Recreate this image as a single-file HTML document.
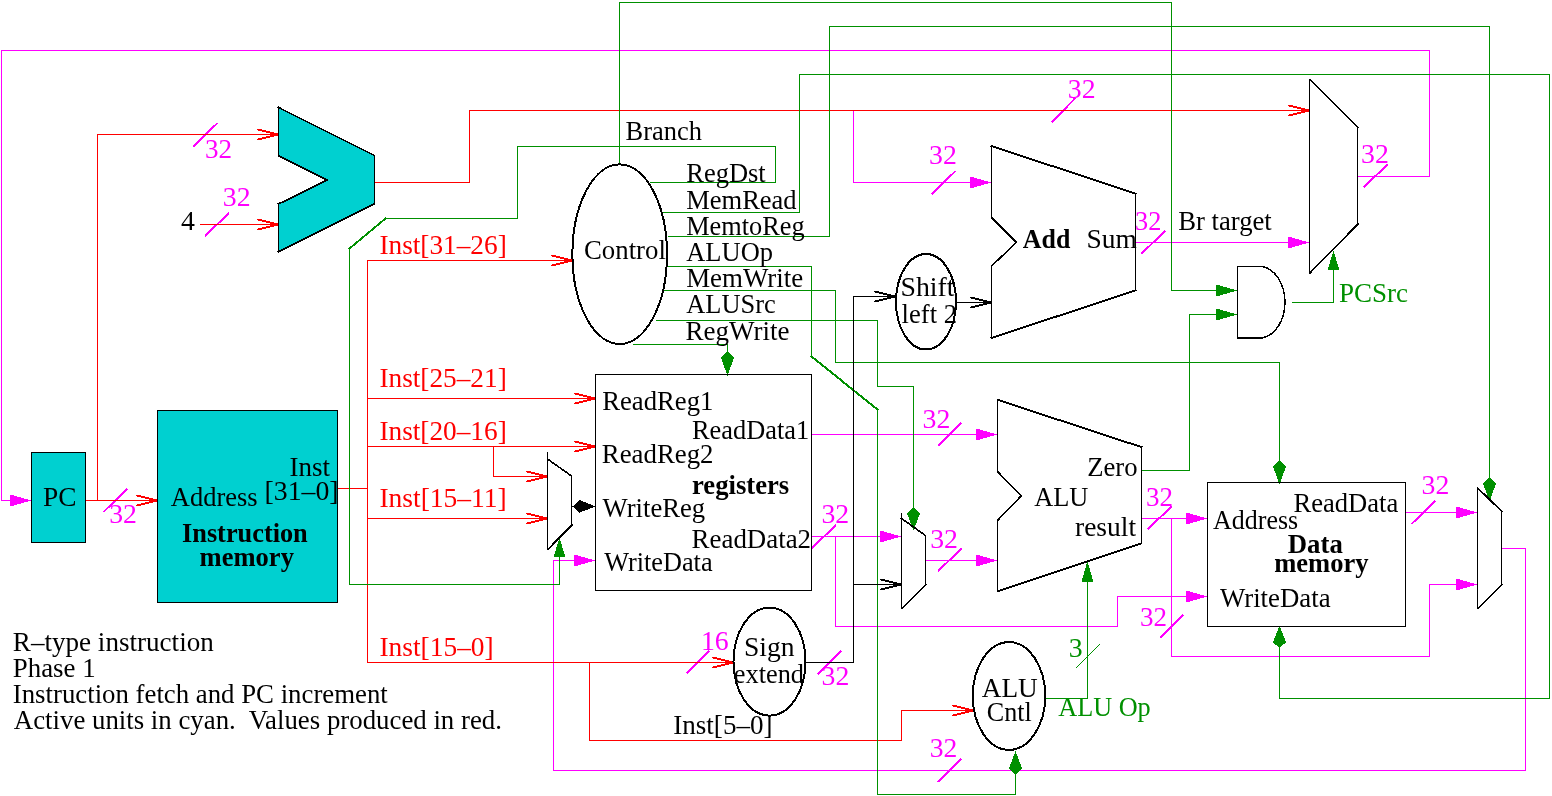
<!DOCTYPE html><html><head><meta charset="utf-8"><style>html,body{margin:0;padding:0;background:#fff;overflow:hidden}svg{display:block}</style></head><body><svg width="1552" height="796" viewBox="0 0 1552 796" style="will-change:transform"><rect width="1552" height="796" fill="#fff"/><polyline points="1357.5,176.5 1429.5,176.5 1429.5,50.5 1.5,50.5 1.5,500.5 31.5,500.5" fill="none" stroke="#ff00ff" stroke-width="1" stroke-linecap="square" shape-rendering="crispEdges"/><polygon points="31,500.5 10,494.5 10,506.5" fill="#ff00ff" stroke="none" shape-rendering="crispEdges"/><line x1="193.3" y1="146.5" x2="217.7" y2="122.8" stroke="#ff00ff" stroke-width="2" shape-rendering="crispEdges"/><line x1="205" y1="236" x2="229" y2="213" stroke="#ff00ff" stroke-width="2" shape-rendering="crispEdges"/><line x1="103.5" y1="512" x2="127.4" y2="488.7" stroke="#ff00ff" stroke-width="2" shape-rendering="crispEdges"/><polyline points="853.5,110.5 853.5,182.5 991.5,182.5" fill="none" stroke="#ff00ff" stroke-width="1" stroke-linecap="square" shape-rendering="crispEdges"/><polygon points="991,182.5 970,176.5 970,188.5" fill="#ff00ff" stroke="none" shape-rendering="crispEdges"/><line x1="931.7" y1="194" x2="955.6" y2="171" stroke="#ff00ff" stroke-width="2" shape-rendering="crispEdges"/><line x1="1051.5" y1="122.5" x2="1075.4" y2="98" stroke="#ff00ff" stroke-width="2" shape-rendering="crispEdges"/><polyline points="1135.5,242.5 1309.5,242.5" fill="none" stroke="#ff00ff" stroke-width="1" stroke-linecap="square" shape-rendering="crispEdges"/><polygon points="1309,242.5 1288,236.5 1288,248.5" fill="#ff00ff" stroke="none" shape-rendering="crispEdges"/><line x1="1141.5" y1="253.7" x2="1165.4" y2="230.6" stroke="#ff00ff" stroke-width="2" shape-rendering="crispEdges"/><line x1="1363.7" y1="187" x2="1387.6" y2="164.6" stroke="#ff00ff" stroke-width="2" shape-rendering="crispEdges"/><polyline points="811.5,434.5 997.5,434.5" fill="none" stroke="#ff00ff" stroke-width="1" stroke-linecap="square" shape-rendering="crispEdges"/><polygon points="997,434.5 976,428.5 976,440.5" fill="#ff00ff" stroke="none" shape-rendering="crispEdges"/><line x1="938" y1="445.7" x2="961.4" y2="422.6" stroke="#ff00ff" stroke-width="2" shape-rendering="crispEdges"/><polyline points="811.5,536.5 901.5,536.5" fill="none" stroke="#ff00ff" stroke-width="1" stroke-linecap="square" shape-rendering="crispEdges"/><polygon points="901,536.5 880,530.5 880,542.5" fill="#ff00ff" stroke="none" shape-rendering="crispEdges"/><polyline points="835.5,536.5 835.5,626.5 1117.5,626.5 1117.5,596.5 1207.5,596.5" fill="none" stroke="#ff00ff" stroke-width="1" stroke-linecap="square" shape-rendering="crispEdges"/><polygon points="1207,596.5 1186,590.5 1186,602.5" fill="#ff00ff" stroke="none" shape-rendering="crispEdges"/><line x1="812" y1="548" x2="836" y2="525" stroke="#ff00ff" stroke-width="2" shape-rendering="crispEdges"/><polyline points="926.5,560.5 997.5,560.5" fill="none" stroke="#ff00ff" stroke-width="1" stroke-linecap="square" shape-rendering="crispEdges"/><polygon points="997,560.5 976,554.5 976,566.5" fill="#ff00ff" stroke="none" shape-rendering="crispEdges"/><line x1="938" y1="571" x2="961.8" y2="548.5" stroke="#ff00ff" stroke-width="2" shape-rendering="crispEdges"/><polyline points="1141.5,518.5 1207.5,518.5" fill="none" stroke="#ff00ff" stroke-width="1" stroke-linecap="square" shape-rendering="crispEdges"/><polygon points="1207,518.5 1186,512.5 1186,524.5" fill="#ff00ff" stroke="none" shape-rendering="crispEdges"/><polyline points="1171.5,518.5 1171.5,656.5 1429.5,656.5 1429.5,584.5 1477.5,584.5" fill="none" stroke="#ff00ff" stroke-width="1" stroke-linecap="square" shape-rendering="crispEdges"/><polygon points="1477,584.5 1456,578.5 1456,590.5" fill="#ff00ff" stroke="none" shape-rendering="crispEdges"/><line x1="1147.7" y1="529" x2="1171.6" y2="506.6" stroke="#ff00ff" stroke-width="2" shape-rendering="crispEdges"/><line x1="1160" y1="638" x2="1183.5" y2="614.6" stroke="#ff00ff" stroke-width="2" shape-rendering="crispEdges"/><polyline points="1405.5,512.5 1477.5,512.5" fill="none" stroke="#ff00ff" stroke-width="1" stroke-linecap="square" shape-rendering="crispEdges"/><polygon points="1477,512.5 1456,506.5 1456,518.5" fill="#ff00ff" stroke="none" shape-rendering="crispEdges"/><line x1="1411.5" y1="524" x2="1435.4" y2="501" stroke="#ff00ff" stroke-width="2" shape-rendering="crispEdges"/><polyline points="1501.5,548.5 1525.5,548.5 1525.5,770.5 553.5,770.5 553.5,560.5 595.5,560.5" fill="none" stroke="#ff00ff" stroke-width="1" stroke-linecap="square" shape-rendering="crispEdges"/><polygon points="595,560.5 574,554.5 574,566.5" fill="#ff00ff" stroke="none" shape-rendering="crispEdges"/><line x1="686.4" y1="673.4" x2="709" y2="650.8" stroke="#ff00ff" stroke-width="2" shape-rendering="crispEdges"/><line x1="817.8" y1="673.9" x2="841.4" y2="650.8" stroke="#ff00ff" stroke-width="2" shape-rendering="crispEdges"/><line x1="937.6" y1="782" x2="961.5" y2="758.8" stroke="#ff00ff" stroke-width="2" shape-rendering="crispEdges"/><polyline points="85.5,500.5 157.5,500.5" fill="none" stroke="#ff0000" stroke-width="1" stroke-linecap="square" shape-rendering="crispEdges"/><line x1="136.5" y1="495.5" x2="157.5" y2="500.5" stroke="#ff0000" stroke-width="1.9" stroke-linecap="butt" shape-rendering="crispEdges"/><line x1="136.5" y1="505.5" x2="157.5" y2="500.5" stroke="#ff0000" stroke-width="1.9" stroke-linecap="butt" shape-rendering="crispEdges"/><polyline points="97.5,500.5 97.5,134.5 278.5,134.5" fill="none" stroke="#ff0000" stroke-width="1" stroke-linecap="square" shape-rendering="crispEdges"/><line x1="257.5" y1="129.5" x2="278.5" y2="134.5" stroke="#ff0000" stroke-width="1.9" stroke-linecap="butt" shape-rendering="crispEdges"/><line x1="257.5" y1="139.5" x2="278.5" y2="134.5" stroke="#ff0000" stroke-width="1.9" stroke-linecap="butt" shape-rendering="crispEdges"/><polyline points="200.5,224.5 278.5,224.5" fill="none" stroke="#ff0000" stroke-width="1" stroke-linecap="square" shape-rendering="crispEdges"/><line x1="257.5" y1="219.5" x2="278.5" y2="224.5" stroke="#ff0000" stroke-width="1.9" stroke-linecap="butt" shape-rendering="crispEdges"/><line x1="257.5" y1="229.5" x2="278.5" y2="224.5" stroke="#ff0000" stroke-width="1.9" stroke-linecap="butt" shape-rendering="crispEdges"/><polyline points="374.5,182.5 469.5,182.5 469.5,110.5 1309.5,110.5" fill="none" stroke="#ff0000" stroke-width="1" stroke-linecap="square" shape-rendering="crispEdges"/><line x1="1288.5" y1="105.5" x2="1309.5" y2="110.5" stroke="#ff0000" stroke-width="1.9" stroke-linecap="butt" shape-rendering="crispEdges"/><line x1="1288.5" y1="115.5" x2="1309.5" y2="110.5" stroke="#ff0000" stroke-width="1.9" stroke-linecap="butt" shape-rendering="crispEdges"/><polyline points="337.5,488.5 367.5,488.5" fill="none" stroke="#ff0000" stroke-width="1" stroke-linecap="square" shape-rendering="crispEdges"/><polyline points="367.5,260.5 367.5,662.5 733.5,662.5" fill="none" stroke="#ff0000" stroke-width="1" stroke-linecap="square" shape-rendering="crispEdges"/><line x1="712.5" y1="657.5" x2="733.5" y2="662.5" stroke="#ff0000" stroke-width="1.9" stroke-linecap="butt" shape-rendering="crispEdges"/><line x1="712.5" y1="667.5" x2="733.5" y2="662.5" stroke="#ff0000" stroke-width="1.9" stroke-linecap="butt" shape-rendering="crispEdges"/><polyline points="367.5,260.5 572.5,260.5" fill="none" stroke="#ff0000" stroke-width="1" stroke-linecap="square" shape-rendering="crispEdges"/><line x1="551.5" y1="255.5" x2="572.5" y2="260.5" stroke="#ff0000" stroke-width="1.9" stroke-linecap="butt" shape-rendering="crispEdges"/><line x1="551.5" y1="265.5" x2="572.5" y2="260.5" stroke="#ff0000" stroke-width="1.9" stroke-linecap="butt" shape-rendering="crispEdges"/><polyline points="367.5,398.5 595.5,398.5" fill="none" stroke="#ff0000" stroke-width="1" stroke-linecap="square" shape-rendering="crispEdges"/><line x1="574.5" y1="393.5" x2="595.5" y2="398.5" stroke="#ff0000" stroke-width="1.9" stroke-linecap="butt" shape-rendering="crispEdges"/><line x1="574.5" y1="403.5" x2="595.5" y2="398.5" stroke="#ff0000" stroke-width="1.9" stroke-linecap="butt" shape-rendering="crispEdges"/><polyline points="367.5,446.5 595.5,446.5" fill="none" stroke="#ff0000" stroke-width="1" stroke-linecap="square" shape-rendering="crispEdges"/><line x1="574.5" y1="441.5" x2="595.5" y2="446.5" stroke="#ff0000" stroke-width="1.9" stroke-linecap="butt" shape-rendering="crispEdges"/><line x1="574.5" y1="451.5" x2="595.5" y2="446.5" stroke="#ff0000" stroke-width="1.9" stroke-linecap="butt" shape-rendering="crispEdges"/><polyline points="493.5,446.5 493.5,476.5 547.5,476.5" fill="none" stroke="#ff0000" stroke-width="1" stroke-linecap="square" shape-rendering="crispEdges"/><line x1="526.5" y1="471.5" x2="547.5" y2="476.5" stroke="#ff0000" stroke-width="1.9" stroke-linecap="butt" shape-rendering="crispEdges"/><line x1="526.5" y1="481.5" x2="547.5" y2="476.5" stroke="#ff0000" stroke-width="1.9" stroke-linecap="butt" shape-rendering="crispEdges"/><polyline points="367.5,518.5 547.5,518.5" fill="none" stroke="#ff0000" stroke-width="1" stroke-linecap="square" shape-rendering="crispEdges"/><line x1="526.5" y1="513.5" x2="547.5" y2="518.5" stroke="#ff0000" stroke-width="1.9" stroke-linecap="butt" shape-rendering="crispEdges"/><line x1="526.5" y1="523.5" x2="547.5" y2="518.5" stroke="#ff0000" stroke-width="1.9" stroke-linecap="butt" shape-rendering="crispEdges"/><polyline points="589.5,662.5 589.5,740.5 901.5,740.5 901.5,710.5 973.5,710.5" fill="none" stroke="#ff0000" stroke-width="1" stroke-linecap="square" shape-rendering="crispEdges"/><line x1="952.5" y1="705.5" x2="973.5" y2="710.5" stroke="#ff0000" stroke-width="1.9" stroke-linecap="butt" shape-rendering="crispEdges"/><line x1="952.5" y1="715.5" x2="973.5" y2="710.5" stroke="#ff0000" stroke-width="1.9" stroke-linecap="butt" shape-rendering="crispEdges"/><polyline points="619.5,164.5 619.5,2.5 1171.5,2.5 1171.5,290.5 1237.5,290.5" fill="none" stroke="#009000" stroke-width="1" stroke-linecap="square" shape-rendering="crispEdges"/><polygon points="1237,290.5 1216,284.5 1216,296.5" fill="#009000" stroke="none" shape-rendering="crispEdges"/><polyline points="650.5,182.5 775.5,182.5 775.5,146.5 517.5,146.5 517.5,218.5 385.5,218.5" fill="none" stroke="#009000" stroke-width="1" stroke-linecap="square" shape-rendering="crispEdges"/><polyline points="385.5,218.5 349.5,248.5" fill="none" stroke="#009000" stroke-width="1" stroke-linecap="square" shape-rendering="crispEdges"/><line x1="385.5" y1="218.5" x2="349.5" y2="248.5" stroke="#009000" stroke-width="2.00" stroke-linecap="square" shape-rendering="crispEdges"/><polyline points="349.5,248.5 349.5,584.5 559.5,584.5 559.5,538.5" fill="none" stroke="#009000" stroke-width="1" stroke-linecap="square" shape-rendering="crispEdges"/><polygon points="559.5,538 553.5,557 565.5,557" fill="#009000" stroke="none" shape-rendering="crispEdges"/><polyline points="663.5,212.5 799.5,212.5 799.5,74.5 1549.5,74.5 1549.5,698.5 1279.5,698.5 1279.5,647.5" fill="none" stroke="#009000" stroke-width="1" stroke-linecap="square" shape-rendering="crispEdges"/><polygon points="1279.5,627 1285.5,642 1279.5,647.5 1273.5,642" fill="#009000" stroke="#009000" stroke-width="1" stroke-linecap="square" shape-rendering="crispEdges"/><polyline points="668.5,236.5 829.5,236.5 829.5,26.5 1489.5,26.5 1489.5,478.5" fill="none" stroke="#009000" stroke-width="1" stroke-linecap="square" shape-rendering="crispEdges"/><polygon points="1489.5,478 1495.5,483.5 1489.5,500 1483.5,483.5" fill="#009000" stroke="#009000" stroke-width="1" stroke-linecap="square" shape-rendering="crispEdges"/><polyline points="667.5,266.5 811.5,266.5 811.5,356.5" fill="none" stroke="#009000" stroke-width="1" stroke-linecap="square" shape-rendering="crispEdges"/><polyline points="811.5,356.5 877.5,409.5" fill="none" stroke="#009000" stroke-width="1" stroke-linecap="square" shape-rendering="crispEdges"/><line x1="811.5" y1="356.5" x2="877.5" y2="409.5" stroke="#009000" stroke-width="2.03" stroke-linecap="square" shape-rendering="crispEdges"/><polyline points="877.5,409.5 877.5,794.5 1015.5,794.5 1015.5,773.5" fill="none" stroke="#009000" stroke-width="1" stroke-linecap="square" shape-rendering="crispEdges"/><polygon points="1015.5,752.3 1021.5,768.3 1015.5,773.8 1009.5,768.3" fill="#009000" stroke="#009000" stroke-width="1" stroke-linecap="square" shape-rendering="crispEdges"/><polyline points="663.5,290.5 835.5,290.5 835.5,362.5 1279.5,362.5 1279.5,461.5" fill="none" stroke="#009000" stroke-width="1" stroke-linecap="square" shape-rendering="crispEdges"/><polygon points="1279.5,461 1285.5,466.5 1279.5,483 1273.5,466.5" fill="#009000" stroke="#009000" stroke-width="1" stroke-linecap="square" shape-rendering="crispEdges"/><polyline points="656.5,320.5 877.5,320.5 877.5,386.5 913.5,386.5 913.5,508.5" fill="none" stroke="#009000" stroke-width="1" stroke-linecap="square" shape-rendering="crispEdges"/><polygon points="913.5,508 919.5,513.5 913.5,529 907.5,513.5" fill="#009000" stroke="#009000" stroke-width="1" stroke-linecap="square" shape-rendering="crispEdges"/><polyline points="633.5,344.5 727.5,344.5 727.5,352.5" fill="none" stroke="#009000" stroke-width="1" stroke-linecap="square" shape-rendering="crispEdges"/><polygon points="727.5,352 733.5,357.5 727.5,374.5 721.5,357.5" fill="#009000" stroke="#009000" stroke-width="1" stroke-linecap="square" shape-rendering="crispEdges"/><polyline points="1141.5,470.5 1189.5,470.5 1189.5,314.5 1237.5,314.5" fill="none" stroke="#009000" stroke-width="1" stroke-linecap="square" shape-rendering="crispEdges"/><polygon points="1237,314.5 1216,308.5 1216,320.5" fill="#009000" stroke="none" shape-rendering="crispEdges"/><polyline points="1292.5,302.5 1333.5,302.5 1333.5,251.5" fill="none" stroke="#009000" stroke-width="1" stroke-linecap="square" shape-rendering="crispEdges"/><polygon points="1333.5,251 1327.5,270 1339.5,270" fill="#009000" stroke="none" shape-rendering="crispEdges"/><polyline points="1045.5,698.5 1087.5,698.5 1087.5,561.5" fill="none" stroke="#009000" stroke-width="1" stroke-linecap="square" shape-rendering="crispEdges"/><polygon points="1087.5,561 1081.5,582 1093.5,582" fill="#009000" stroke="none" shape-rendering="crispEdges"/><line x1="1076.4" y1="667.5" x2="1100" y2="644" stroke="#009000" stroke-width="1.2" shape-rendering="crispEdges"/><rect x="31.5" y="452.5" width="54" height="90" fill="#00d0d0" stroke="#000000" stroke-width="1" shape-rendering="crispEdges"/><rect x="157.5" y="410.5" width="180" height="192" fill="#00d0d0" stroke="#000000" stroke-width="1" shape-rendering="crispEdges"/><polygon points="278.5,107.5 374.5,155.5 374.5,204 278.5,252 278.5,204 327,180 278.5,156" fill="#00d0d0" stroke="#000000" stroke-width="1" stroke-linecap="square" shape-rendering="crispEdges"/><line x1="278.5" y1="107.5" x2="374.5" y2="155.5" stroke="#000000" stroke-width="1.79" stroke-linecap="square" shape-rendering="crispEdges"/><line x1="374.5" y1="204" x2="278.5" y2="252" stroke="#000000" stroke-width="1.79" stroke-linecap="square" shape-rendering="crispEdges"/><line x1="278.5" y1="204" x2="327" y2="180" stroke="#000000" stroke-width="1.79" stroke-linecap="square" shape-rendering="crispEdges"/><line x1="327" y1="180" x2="278.5" y2="156" stroke="#000000" stroke-width="1.79" stroke-linecap="square" shape-rendering="crispEdges"/><ellipse cx="619.7" cy="254.2" rx="47.3" ry="89.8" fill="none" stroke="#000000" stroke-width="2" shape-rendering="crispEdges"/><ellipse cx="926" cy="301.7" rx="30" ry="47.8" fill="none" stroke="#000000" stroke-width="2" shape-rendering="crispEdges"/><ellipse cx="769.5" cy="661.6" rx="36" ry="54" fill="none" stroke="#000000" stroke-width="2" shape-rendering="crispEdges"/><ellipse cx="1009" cy="696" rx="36.2" ry="53.9" fill="none" stroke="#000000" stroke-width="2" shape-rendering="crispEdges"/><polygon points="991.5,146 1135.5,193.6 1135.5,290.4 991.5,338 991.5,265.7 1016,242.4 991.5,218" fill="none" stroke="#000000" stroke-width="1" stroke-linecap="square" shape-rendering="crispEdges"/><line x1="991.5" y1="146" x2="1135.5" y2="193.6" stroke="#000000" stroke-width="1.90" stroke-linecap="square" shape-rendering="crispEdges"/><line x1="1135.5" y1="290.4" x2="991.5" y2="338" stroke="#000000" stroke-width="1.90" stroke-linecap="square" shape-rendering="crispEdges"/><line x1="992" y1="265.7" x2="1016.5" y2="242.4" stroke="#000000" stroke-width="1.50" stroke-linecap="square" shape-rendering="crispEdges"/><line x1="1016.5" y1="242.4" x2="992" y2="218" stroke="#000000" stroke-width="1.50" stroke-linecap="square" shape-rendering="crispEdges"/><polygon points="1309.5,79.5 1357.5,127.5 1357.5,224 1309.5,273" fill="none" stroke="#000000" stroke-width="1" stroke-linecap="square" shape-rendering="crispEdges"/><line x1="1310" y1="79.5" x2="1358" y2="127.5" stroke="#000000" stroke-width="1.50" stroke-linecap="square" shape-rendering="crispEdges"/><line x1="1358" y1="224" x2="1310" y2="273" stroke="#000000" stroke-width="1.50" stroke-linecap="square" shape-rendering="crispEdges"/><path d="M1237.5,266.5 H1262 A26,36 0 0 1 1262,338 H1237.5 Z" fill="none" stroke="#000000" stroke-width="1.5" shape-rendering="crispEdges"/><rect x="595.5" y="374.5" width="216" height="216" fill="none" stroke="#000000" stroke-width="1" shape-rendering="crispEdges"/><polyline points="547.5,452 547.5,549.3" fill="none" stroke="#000000" stroke-width="1" stroke-linecap="square" shape-rendering="crispEdges"/><polyline points="547.5,459 571.5,476 571.5,525 547.5,549.3" fill="none" stroke="#000000" stroke-width="1" stroke-linecap="square" shape-rendering="crispEdges"/><line x1="547.5" y1="459" x2="571.5" y2="476" stroke="#000000" stroke-width="1.63" stroke-linecap="square" shape-rendering="crispEdges"/><line x1="572" y1="525" x2="548" y2="549.3" stroke="#000000" stroke-width="1.50" stroke-linecap="square" shape-rendering="crispEdges"/><polyline points="901.5,513 901.5,608.8" fill="none" stroke="#000000" stroke-width="1" stroke-linecap="square" shape-rendering="crispEdges"/><polyline points="901.5,518.4 925.5,535.5 925.5,584.5 901.5,608.8" fill="none" stroke="#000000" stroke-width="1" stroke-linecap="square" shape-rendering="crispEdges"/><line x1="901.5" y1="518.4" x2="925.5" y2="535.5" stroke="#000000" stroke-width="1.63" stroke-linecap="square" shape-rendering="crispEdges"/><line x1="926" y1="584.5" x2="902" y2="608.8" stroke="#000000" stroke-width="1.50" stroke-linecap="square" shape-rendering="crispEdges"/><polygon points="997.5,399.8 1141.5,447.1 1141.5,543.5 997.5,591.3 997.5,520 1020.8,495.8 997.5,472" fill="none" stroke="#000000" stroke-width="1" stroke-linecap="square" shape-rendering="crispEdges"/><line x1="997.5" y1="399.8" x2="1141.5" y2="447.1" stroke="#000000" stroke-width="1.90" stroke-linecap="square" shape-rendering="crispEdges"/><line x1="1141.5" y1="543.5" x2="997.5" y2="591.3" stroke="#000000" stroke-width="1.90" stroke-linecap="square" shape-rendering="crispEdges"/><line x1="998" y1="520" x2="1021.3" y2="495.8" stroke="#000000" stroke-width="1.50" stroke-linecap="square" shape-rendering="crispEdges"/><line x1="1021.3" y1="495.8" x2="998" y2="472" stroke="#000000" stroke-width="1.50" stroke-linecap="square" shape-rendering="crispEdges"/><rect x="1207.5" y="482.5" width="198" height="144" fill="none" stroke="#000000" stroke-width="1" shape-rendering="crispEdges"/><polygon points="1477.5,488.2 1501.5,511.6 1501.5,584.5 1477.5,608.8" fill="none" stroke="#000000" stroke-width="1" stroke-linecap="square" shape-rendering="crispEdges"/><line x1="1478" y1="488.2" x2="1502" y2="511.6" stroke="#000000" stroke-width="1.50" stroke-linecap="square" shape-rendering="crispEdges"/><line x1="1502" y1="584.5" x2="1478" y2="608.8" stroke="#000000" stroke-width="1.50" stroke-linecap="square" shape-rendering="crispEdges"/><polyline points="805.5,662.5 853.5,662.5 853.5,296.5 895.5,296.5" fill="none" stroke="#000000" stroke-width="1" stroke-linecap="square" shape-rendering="crispEdges"/><line x1="874.5" y1="291.5" x2="895.5" y2="296.5" stroke="#000000" stroke-width="1.9" stroke-linecap="butt" shape-rendering="crispEdges"/><line x1="874.5" y1="301.5" x2="895.5" y2="296.5" stroke="#000000" stroke-width="1.9" stroke-linecap="butt" shape-rendering="crispEdges"/><polyline points="853.5,584.5 901.5,584.5" fill="none" stroke="#000000" stroke-width="1" stroke-linecap="square" shape-rendering="crispEdges"/><line x1="880.5" y1="579.5" x2="901.5" y2="584.5" stroke="#000000" stroke-width="1.9" stroke-linecap="butt" shape-rendering="crispEdges"/><line x1="880.5" y1="589.5" x2="901.5" y2="584.5" stroke="#000000" stroke-width="1.9" stroke-linecap="butt" shape-rendering="crispEdges"/><polyline points="956.5,302.5 991.5,302.5" fill="none" stroke="#000000" stroke-width="1" stroke-linecap="square" shape-rendering="crispEdges"/><line x1="970.5" y1="297.5" x2="991.5" y2="302.5" stroke="#000000" stroke-width="1.9" stroke-linecap="butt" shape-rendering="crispEdges"/><line x1="970.5" y1="307.5" x2="991.5" y2="302.5" stroke="#000000" stroke-width="1.9" stroke-linecap="butt" shape-rendering="crispEdges"/><polyline points="571.5,506.5 595.5,506.5" fill="none" stroke="#000000" stroke-width="1" stroke-linecap="square" shape-rendering="crispEdges"/><polygon points="573.8,506.5 579.5,500.5 594.5,506.5 579.5,512" fill="#000000" stroke="#000000" stroke-width="1" stroke-linecap="square" shape-rendering="crispEdges"/><g font-family="Liberation Serif, serif" style="white-space:pre"><text xml:space="preserve" transform="translate(205,157.8) scale(1.0042,1)" fill="#ff00ff" font-size="27">32</text><text xml:space="preserve" transform="translate(222.8,205.8) scale(1.0300,1)" fill="#ff00ff" font-size="27">32</text><text xml:space="preserve" transform="translate(109.2,523.4) scale(1.0300,1)" fill="#ff00ff" font-size="27">32</text><text xml:space="preserve" transform="translate(929,164) scale(1.0300,1)" fill="#ff00ff" font-size="27">32</text><text xml:space="preserve" transform="translate(1067.8,98) scale(1.0300,1)" fill="#ff00ff" font-size="27">32</text><text xml:space="preserve" transform="translate(1135,229.8) scale(0.9760,1)" fill="#ff00ff" font-size="27">32</text><text xml:space="preserve" transform="translate(1361,163.3) scale(1.0300,1)" fill="#ff00ff" font-size="27">32</text><text xml:space="preserve" transform="translate(922.5,428) scale(1.0300,1)" fill="#ff00ff" font-size="27">32</text><text xml:space="preserve" transform="translate(821.4,523.4) scale(1.0300,1)" fill="#ff00ff" font-size="27">32</text><text xml:space="preserve" transform="translate(930.2,547.5) scale(1.0300,1)" fill="#ff00ff" font-size="27">32</text><text xml:space="preserve" x="1146" y="505.8" fill="#ff00ff" font-size="27">32</text><text xml:space="preserve" x="1140" y="625.6" fill="#ff00ff" font-size="27">32</text><text xml:space="preserve" transform="translate(1421.6,493.6) scale(1.0300,1)" fill="#ff00ff" font-size="27">32</text><text xml:space="preserve" transform="translate(700.9,649.5) scale(1.0300,1)" fill="#ff00ff" font-size="27">16</text><text xml:space="preserve" transform="translate(821.6,685.2) scale(1.0300,1)" fill="#ff00ff" font-size="27">32</text><text xml:space="preserve" transform="translate(929.8,756.8) scale(1.0240,1)" fill="#ff00ff" font-size="27">32</text><text xml:space="preserve" transform="translate(379.4,253.5) scale(1.0114,1)" fill="#ff0000" font-size="27">Inst[31–26]</text><text xml:space="preserve" transform="translate(379.4,386.5) scale(1.0114,1)" fill="#ff0000" font-size="27">Inst[25–21]</text><text xml:space="preserve" transform="translate(379.4,440) scale(1.0114,1)" fill="#ff0000" font-size="27">Inst[20–16]</text><text xml:space="preserve" transform="translate(379.4,507.1) scale(1.0197,1)" fill="#ff0000" font-size="27">Inst[15–11]</text><text xml:space="preserve" transform="translate(379.4,655.8) scale(1.0164,1)" fill="#ff0000" font-size="27">Inst[15–0]</text><text xml:space="preserve" transform="translate(625.6,139.6) scale(0.9792,1)" fill="#000000" font-size="27">Branch</text><text xml:space="preserve" transform="translate(1068.8,656.7) scale(1.0300,1)" fill="#009000" font-size="27">3</text><text xml:space="preserve" x="1339" y="301.5" fill="#009000" font-size="27">PCSrc</text><text xml:space="preserve" transform="translate(1058.2,716) scale(0.9723,1)" fill="#009000" font-size="27">ALU Op</text><text xml:space="preserve" transform="translate(181,229.9) scale(1.0300,1)" fill="#000000" font-size="27">4</text><text xml:space="preserve" transform="translate(43,506.3) scale(1.0129,1)" fill="#000000" font-size="27">PC</text><text xml:space="preserve" transform="translate(170.8,505.8) scale(0.9816,1)" fill="#000000" font-size="27">Address</text><text xml:space="preserve" x="289.4" y="475.6" fill="#000000" font-size="27">Inst</text><text xml:space="preserve" transform="translate(264.5,500) scale(1.0300,1)" fill="#000000" font-size="27">[31–0]</text><text xml:space="preserve" transform="translate(12.8,650.5) scale(1.0040,1)" fill="#000000" font-size="27">R–type instruction</text><text xml:space="preserve" transform="translate(12.8,676.7) scale(0.9951,1)" fill="#000000" font-size="27">Phase 1</text><text xml:space="preserve" transform="translate(12.8,703) scale(0.9928,1)" fill="#000000" font-size="27">Instruction fetch and PC increment</text><text xml:space="preserve" transform="translate(13.8,729.3) scale(0.9937,1)" fill="#000000" font-size="27">Active units in cyan.  Values produced in red.</text><text xml:space="preserve" transform="translate(686.2,181.7) scale(0.9825,1)" fill="#000000" font-size="27">RegDst</text><text xml:space="preserve" transform="translate(686.2,208.5) scale(0.9821,1)" fill="#000000" font-size="27">MemRead</text><text xml:space="preserve" transform="translate(686.2,234.9) scale(0.9760,1)" fill="#000000" font-size="27">MemtoReg</text><text xml:space="preserve" transform="translate(686.2,260.8) scale(0.9816,1)" fill="#000000" font-size="27">ALUOp</text><text xml:space="preserve" transform="translate(686.2,287.2) scale(0.9966,1)" fill="#000000" font-size="27">MemWrite</text><text xml:space="preserve" transform="translate(686.2,313) scale(0.9789,1)" fill="#000000" font-size="27">ALUSrc</text><text xml:space="preserve" x="685.6" y="340.2" fill="#000000" font-size="27">RegWrite</text><text xml:space="preserve" transform="translate(584,259.3) scale(0.9926,1)" fill="#000000" font-size="27">Control</text><text xml:space="preserve" transform="translate(900.5,296) scale(1.0300,1)" fill="#000000" font-size="27">Shift</text><text xml:space="preserve" transform="translate(901.6,322.5) scale(0.9852,1)" fill="#000000" font-size="27">left 2</text><text xml:space="preserve" transform="translate(1086.4,248) scale(1.0170,1)" fill="#000000" font-size="27">Sum</text><text xml:space="preserve" transform="translate(1178.2,229.9) scale(0.9883,1)" fill="#000000" font-size="27">Br target</text><text xml:space="preserve" transform="translate(602.2,409.6) scale(0.9891,1)" fill="#000000" font-size="27">ReadReg1</text><text xml:space="preserve" transform="translate(601.8,463.2) scale(0.9936,1)" fill="#000000" font-size="27">ReadReg2</text><text xml:space="preserve" transform="translate(602.6,517) scale(0.9874,1)" fill="#000000" font-size="27">WriteReg</text><text xml:space="preserve" transform="translate(604.2,571.2) scale(0.9739,1)" fill="#000000" font-size="27">WriteData</text><text xml:space="preserve" transform="translate(692,439.4) scale(0.9778,1)" fill="#000000" font-size="27">ReadData1</text><text xml:space="preserve" transform="translate(691.6,547.5) scale(0.9966,1)" fill="#000000" font-size="27">ReadData2</text><text xml:space="preserve" transform="translate(1087.2,475.5) scale(0.9878,1)" fill="#000000" font-size="27">Zero</text><text xml:space="preserve" transform="translate(1034.2,505.8) scale(0.9778,1)" fill="#000000" font-size="27">ALU</text><text xml:space="preserve" transform="translate(1075,535.5) scale(1.0190,1)" fill="#000000" font-size="27">result</text><text xml:space="preserve" transform="translate(1293.4,511.6) scale(0.9857,1)" fill="#000000" font-size="27">ReadData</text><text xml:space="preserve" transform="translate(1213,529.2) scale(0.9625,1)" fill="#000000" font-size="27">Address</text><text xml:space="preserve" transform="translate(1220,607.1) scale(0.9936,1)" fill="#000000" font-size="27">WriteData</text><text xml:space="preserve" transform="translate(744,655.5) scale(1.0213,1)" fill="#000000" font-size="27">Sign</text><text xml:space="preserve" transform="translate(733.8,682.7) scale(0.9757,1)" fill="#000000" font-size="27">extend</text><text xml:space="preserve" transform="translate(673.2,733.7) scale(1.0042,1)" fill="#000000" font-size="27">Inst[5–0]</text><text xml:space="preserve" transform="translate(981.8,697.3) scale(1.0093,1)" fill="#000000" font-size="27">ALU</text><text xml:space="preserve" transform="translate(986.8,720.9) scale(0.9667,1)" fill="#000000" font-size="27">Cntl</text><text xml:space="preserve" transform="translate(182,542.2) scale(0.9750,1)" fill="#000000" font-size="27" font-weight="bold">Instruction</text><text xml:space="preserve" transform="translate(199.6,566) scale(0.9832,1)" fill="#000000" font-size="27" font-weight="bold">memory</text><text xml:space="preserve" transform="translate(1022.8,248.1) scale(0.9592,1)" fill="#000000" font-size="27" font-weight="bold">Add</text><text xml:space="preserve" transform="translate(692,493.5) scale(0.9876,1)" fill="#000000" font-size="27" font-weight="bold">registers</text><text xml:space="preserve" transform="translate(1287.8,553.1) scale(0.9909,1)" fill="#000000" font-size="27" font-weight="bold">Data</text><text xml:space="preserve" transform="translate(1274.2,571.9) scale(0.9832,1)" fill="#000000" font-size="27" font-weight="bold">memory</text></g></svg></body></html>
